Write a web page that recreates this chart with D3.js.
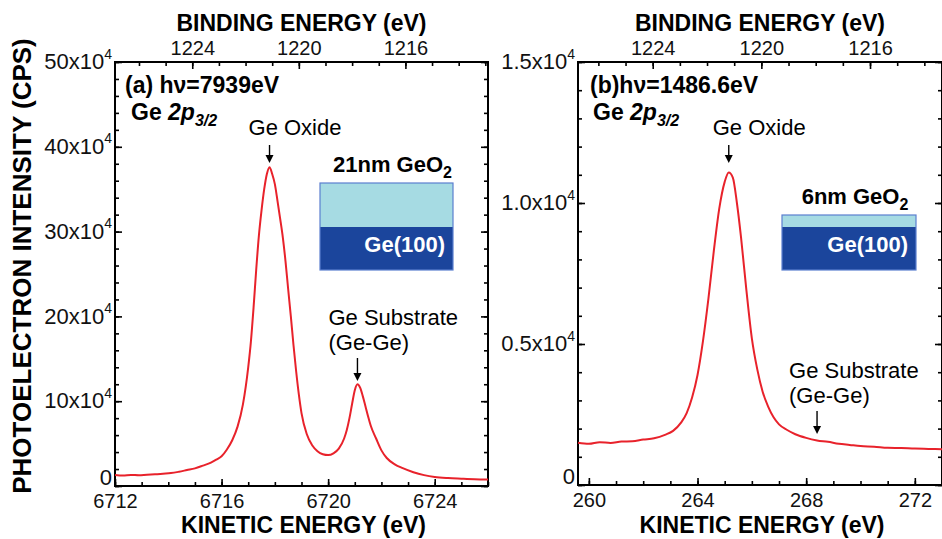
<!DOCTYPE html>
<html>
<head>
<meta charset="utf-8">
<script src="https://cdn.jsdelivr.net/npm/d3@7"></script>
<style>
  html, body { margin: 0; padding: 0; background: #fff; }
  svg text { font-family: "Liberation Sans", Arial, Helvetica, sans-serif; }
</style>
</head>
<body>
<svg id="chart" width="942" height="539"></svg>
<script>
// Ge 2p3/2 spectra: kinetic energy (eV) and intensity (units of 10^4 CPS)
const keA = [6712.0, 6712.3, 6712.6, 6712.9, 6713.2, 6713.5, 6713.8, 6714.1, 6714.4, 6714.7,
  6715.0, 6715.3, 6715.6, 6715.8, 6716.0, 6716.2, 6716.4, 6716.6, 6716.8, 6717.0,
  6717.1, 6717.2, 6717.3, 6717.4, 6717.5, 6717.6, 6717.7, 6717.8, 6717.9, 6718.0,
  6718.1, 6718.2, 6718.3, 6718.4, 6718.5, 6718.6, 6718.7, 6718.8, 6718.9, 6719.0,
  6719.2, 6719.4, 6719.6, 6719.8, 6720.0, 6720.2, 6720.4, 6720.6, 6720.7, 6720.8,
  6720.9, 6721.0, 6721.1, 6721.2, 6721.3, 6721.4, 6721.5, 6721.6, 6721.8, 6722.0,
  6722.2, 6722.5, 6722.8, 6723.2, 6723.6, 6724.0, 6724.5, 6725.0, 6725.5, 6726.0];
const intA = [1.30, 1.24, 1.31, 1.27, 1.34, 1.38, 1.45, 1.52, 1.68, 1.88,
  2.08, 2.40, 2.75, 3.10, 3.50, 4.30, 5.40, 7.00, 9.60, 14.0,
  17.0, 21.0, 25.5, 29.5, 32.5, 35.0, 36.8, 37.6, 36.8, 35.6,
  33.6, 31.5, 29.3, 26.5, 23.2, 20.0, 16.6, 13.5, 10.8, 8.6,
  6.1, 4.8, 4.1, 3.75, 3.65, 3.85, 4.4, 5.6, 6.6, 8.0,
  9.7, 11.3, 12.0, 11.6, 10.6, 9.4, 8.2, 7.1, 5.6, 4.2,
  3.3, 2.55, 2.10, 1.62, 1.28, 1.06, 0.93, 0.86, 0.80, 0.77];

const keB = [259.6, 260.0, 260.4, 260.8, 261.2, 261.6, 262.0, 262.4, 262.8, 263.1,
  263.4, 263.6, 263.8, 264.0, 264.2, 264.4, 264.6, 264.8, 265.0, 265.15,
  265.3, 265.45, 265.6, 265.8, 266.0, 266.2, 266.4, 266.6, 266.8, 267.0,
  267.3, 267.6, 268.0, 268.4, 268.8, 269.2, 269.6, 270.0, 270.5, 271.0,
  271.5, 272.0, 272.5, 273.0];
const intB = [0.150, 0.146, 0.152, 0.149, 0.154, 0.155, 0.161, 0.166, 0.178, 0.192,
  0.222, 0.255, 0.310, 0.390, 0.510, 0.660, 0.830, 0.980, 1.075, 1.108,
  1.090, 1.000, 0.880, 0.690, 0.520, 0.410, 0.330, 0.278, 0.240, 0.215,
  0.195, 0.180, 0.167, 0.158, 0.153, 0.146, 0.142, 0.138, 0.136, 0.132,
  0.131, 0.129, 0.128, 0.127];

// axis ticks
const keTicksA = [6712, 6716, 6720, 6724];
const keTicksB = [260, 264, 268, 272];
const beTicks = [1224, 1220, 1216];
const yTicksA = [0, 10, 20, 30, 40, 50];
const yTicksB = [0, 0.5, 1.0, 1.5];

// photon energies and peak positions used for the annotations
const photonA = 7939, photonB = 1486.6;
const peaksA = { oxide: 6717.8, substrate: 6721.1 };
const peaksB = { oxide: 265.15, substrate: 268.4 };

const svg = d3.select("#chart");
const RED = "#e8222b";

function range(a, b, step) {
  const out = [];
  for (let v = a; v <= b + 1e-9; v += step) out.push(+v.toFixed(6));
  return out;
}

function drawPanel(p) {
  const g = svg.append("g");
  const x = d3.scaleLinear().domain(p.keDomain).range([p.left, p.right]);
  const y = d3.scaleLinear().domain(p.yDomain).range([p.bottom, p.top]);
  // binding energy = photon energy - kinetic energy - offset
  const xb = d3.scaleLinear()
    .domain([p.photon - p.off - p.keDomain[0], p.photon - p.off - p.keDomain[1]])
    .range([p.left, p.right]);

  const minorKE = range(Math.ceil(p.keDomain[0]), Math.floor(p.keDomain[1]), 1);
  const beLo = Math.ceil(xb.domain()[1]), beHi = Math.floor(xb.domain()[0]);
  const minorBE = range(beLo, beHi, 1);
  const minorY = range(p.yDomain[0], p.yDomain[1], p.yMinor);

  const styleAxis = sel => {
    sel.select(".domain").remove();
    sel.selectAll(".tick line").attr("stroke", "#000").attr("stroke-width", 1.6);
  };

  // minor ticks, all four sides
  g.append("g").attr("transform", `translate(0,${p.bottom})`)
    .call(d3.axisBottom(x).tickValues(minorKE).tickSize(-4).tickFormat("")).call(styleAxis);
  g.append("g").attr("transform", `translate(0,${p.top})`)
    .call(d3.axisTop(xb).tickValues(minorBE).tickSize(-4).tickFormat("")).call(styleAxis);
  g.append("g").attr("transform", `translate(${p.left},0)`)
    .call(d3.axisLeft(y).tickValues(minorY).tickSize(-4).tickFormat("")).call(styleAxis);
  g.append("g").attr("transform", `translate(${p.right},0)`)
    .call(d3.axisRight(y).tickValues(minorY).tickSize(-4).tickFormat("")).call(styleAxis);

  // major ticks with labels
  const bx = g.append("g").attr("transform", `translate(0,${p.bottom})`)
    .call(d3.axisBottom(x).tickValues(p.keTicks).tickSize(-7).tickPadding(6).tickFormat(d3.format("d")))
    .call(styleAxis);
  bx.selectAll(".tick text").attr("font-size", 20).attr("fill", "#111").attr("dy", "0.8em");

  const tx = g.append("g").attr("transform", `translate(0,${p.top})`)
    .call(d3.axisTop(xb).tickValues(beTicks).tickSize(-7).tickPadding(7).tickFormat(d3.format("d")))
    .call(styleAxis);
  tx.selectAll(".tick text").attr("font-size", 20).attr("fill", "#111");

  g.append("g").attr("transform", `translate(${p.right},0)`)
    .call(d3.axisRight(y).tickValues(p.yTicks).tickSize(-7).tickFormat(""))
    .call(styleAxis);
  const ly = g.append("g").attr("transform", `translate(${p.left},0)`)
    .call(d3.axisLeft(y).tickValues(p.yTicks).tickSize(-7).tickPadding(3).tickFormat(""))
    .call(styleAxis);
  ly.selectAll(".tick text").each(function (d) {
    const t = d3.select(this).attr("font-size", 22).attr("fill", "#111").attr("dy", "0.3em");
    if (d === 0) { t.attr("dy", "-0.05em").text("0"); return; }
    t.append("tspan").text(p.yFmt(d) + "x10");
    t.append("tspan").attr("font-size", 14).attr("dy", "-0.75em").text("4");
  });

  // frame
  g.append("rect").attr("x", p.left).attr("y", p.top)
    .attr("width", p.right - p.left).attr("height", p.bottom - p.top)
    .attr("fill", "none").attr("stroke", "#000").attr("stroke-width", 2);

  // spectrum
  const pts = p.ke.map((k, i) => [k, p.int[i]]);
  g.append("path").datum(pts)
    .attr("fill", "none").attr("stroke", RED).attr("stroke-width", 2)
    .attr("stroke-linejoin", "round")
    .attr("d", d3.line().x(d => x(d[0])).y(d => y(d[1])).curve(d3.curveMonotoneX));

  // axis titles
  const cx = (p.left + p.right) / 2;
  g.append("text").attr("x", cx).attr("y", 31).attr("text-anchor", "middle")
    .attr("font-size", 23).attr("font-weight", "bold").text("BINDING ENERGY (eV)");
  g.append("text").attr("x", cx + 2).attr("y", 533).attr("text-anchor", "middle")
    .attr("font-size", 23).attr("font-weight", "bold").text("KINETIC ENERGY (eV)");

  // panel label and core level
  g.append("text").attr("x", p.left + p.labelDx).attr("y", 93)
    .attr("font-size", 23).attr("font-weight", "bold").text(p.label);
  const cl = g.append("text").attr("x", p.left + p.labelDx + p.coreDx).attr("y", 120)
    .attr("font-size", 23).attr("font-weight", "bold");
  cl.append("tspan").text("Ge ");
  cl.append("tspan").attr("font-style", "italic").text("2p");
  cl.append("tspan").attr("font-style", "italic").attr("font-size", 16).attr("dy", 6).text("3/2");

  // arrows
  const arrow = (xa, y0, y1) => {
    g.append("line").attr("x1", xa).attr("x2", xa).attr("y1", y0).attr("y2", y1 - 6)
      .attr("stroke", "#000").attr("stroke-width", 1.4);
    g.append("path").attr("d", `M${xa - 4},${y1 - 8}L${xa + 4},${y1 - 8}L${xa},${y1}Z`).attr("fill", "#000");
  };

  const xo = x(p.peaks.oxide);
  g.append("text").attr("x", xo + p.oxideDx).attr("y", 135).attr("font-size", 22).text("Ge Oxide");
  arrow(xo, 145, 163);

  const xs = x(p.peaks.substrate);
  g.append("text").attr("x", xs + p.subDx).attr("y", p.subY).attr("font-size", 22).text("Ge Substrate");
  g.append("text").attr("x", xs + p.subDx).attr("y", p.subY + 25).attr("font-size", 22).text("(Ge-Ge)");
  arrow(xs, p.subY + 33, p.subY + 56);

  // layer stack sketch
  const s = p.stack;
  g.append("rect").attr("x", s.x).attr("y", s.y).attr("width", s.w).attr("height", s.h)
    .attr("fill", "#1b459c");
  g.append("rect").attr("x", s.x).attr("y", s.y).attr("width", s.w).attr("height", s.oxH)
    .attr("fill", "#a6dbe3");
  g.append("rect").attr("x", s.x).attr("y", s.y).attr("width", s.w).attr("height", s.h)
    .attr("fill", "none").attr("stroke", "#5b7fcf").attr("stroke-width", 1.2);
  const th = g.append("text").attr("x", s.x + s.w / 2 + 6).attr("y", s.y - 11)
    .attr("text-anchor", "middle").attr("font-size", 22).attr("font-weight", "bold");
  th.append("tspan").text(s.label + " GeO");
  th.append("tspan").attr("font-size", 16).attr("dy", 6).text("2");
  g.append("text").attr("x", s.x + s.w - 8).attr("y", 252).attr("text-anchor", "end")
    .attr("font-size", 22).attr("font-weight", "bold").attr("fill", "#fff").text("Ge(100)");
}

drawPanel({
  left: 115, right: 488, top: 62, bottom: 486,
  keDomain: [6712, 6726], yDomain: [0, 50], yMinor: 2,
  photon: photonA, off: 0.1,
  keTicks: keTicksA, yTicks: yTicksA, yFmt: d => String(d),
  ke: keA, int: intA, peaks: peaksA,
  label: "(a) h\u03bd=7939eV", labelDx: 10, coreDx: 6,
  oxideDx: -21, subDx: -29, subY: 325,
  stack: { x: 320, y: 183, w: 133, h: 87, oxH: 44, label: "21nm" }
});

drawPanel({
  left: 578, right: 942, top: 62, bottom: 485,
  keDomain: [259.6, 273], yDomain: [0, 1.5], yMinor: 0.1,
  photon: photonB, off: 0.25,
  keTicks: keTicksB, yTicks: yTicksB, yFmt: d => d.toFixed(1),
  ke: keB, int: intB, peaks: peaksB,
  label: "(b)h\u03bd=1486.6eV", labelDx: 12, coreDx: 3,
  oxideDx: -16, subDx: -28, subY: 378,
  stack: { x: 782, y: 215, w: 134, h: 55, oxH: 12, label: "6nm" }
});

// shared vertical title
svg.append("text")
  .attr("transform", "translate(31,266) rotate(-90)")
  .attr("text-anchor", "middle").attr("font-size", 26).attr("font-weight", "bold")
  .text("PHOTOELECTRON INTENSITY (CPS)");
</script>
</body>
</html>
